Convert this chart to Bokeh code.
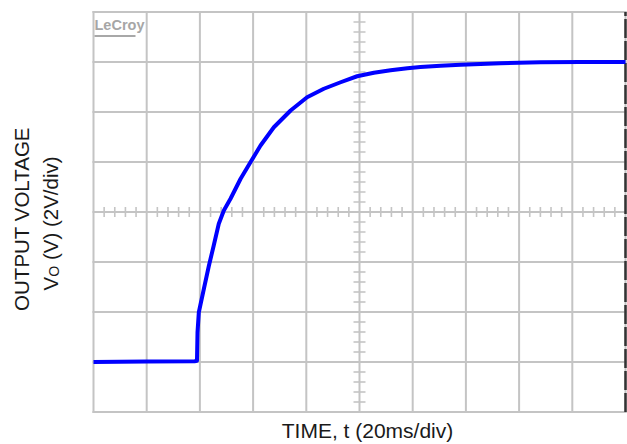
import math
import numpy as np
from bokeh.plotting import figure
from bokeh.models import Label
from bokeh.embed import file_html
from bokeh.resources import INLINE

# ---------------- data ----------------
time_ms = [0.0, 20.0, 38.0, 38.9, 39.1, 39.6, 41.5, 43.4, 45.2, 47.1, 49.0,
           51.5, 55.3, 59.0, 62.8, 67.8, 74.1, 80.3, 86.6, 92.9, 99.1, 105.4,
           111.7, 118.0, 122.9, 130.5, 138.0, 145.5, 153.0, 168.0, 183.1, 200.0]
volts = [0.00, 0.02, 0.03, 0.05, 1.18, 1.99, 2.93, 3.86, 4.66, 5.53, 6.06,
         6.53, 7.33, 7.99, 8.66, 9.39, 10.06, 10.59, 10.93, 11.19, 11.43, 11.57,
         11.67, 11.75, 11.80, 11.85, 11.89, 11.92, 11.95, 11.99, 12.00, 12.00]

x_divs = [0, 20, 40, 60, 80, 100, 120, 140, 160, 180, 200]
y_divs = [-2, 0, 2, 4, 6, 8, 10, 12, 14]
x_label = "TIME, t (20ms/div)"
y_label_1 = "OUTPUT VOLTAGE"
y_label_2 = ["V", "O", "(V) (2V/div)"]
logo_text = "LeCroy"

T0, T1 = 0.0, 200.0
V0, V1 = -2.0, 14.0
T_MID, V_MID = 100.0, 6.0

# ---------------- geometry (canvas pixels) ----------------
W, H = 627, 444
PX_T0, PX_T1 = 93.0, 625.0
PY_V1, PY_V0 = 11.5, 411.5
sx = (PX_T1 - PX_T0) / (T1 - T0)
sy = (PY_V0 - PY_V1) / (V1 - V0)


def tx(px):
    return T0 + (px - PX_T0) / sx


def vy(py):
    return V1 - (py - PY_V1) / sy


p = figure(width=W, height=H, output_backend="svg", toolbar_location=None,
           title=None, x_axis_location=None, y_axis_location=None,
           x_range=(tx(0), tx(W)), y_range=(vy(H), vy(0)))
p.min_border = 0
p.min_border_left = 0
p.min_border_right = 0
p.min_border_top = 0
p.min_border_bottom = 0
p.outline_line_color = None
p.grid.visible = False
p.background_fill_color = "white"
p.border_fill_color = "white"

GRID = "#c4c4c4"
# graticule
p.segment(x0=x_divs, x1=x_divs, y0=V0, y1=V1, line_color=GRID, line_width=2,
          line_cap="square")
p.segment(x0=T0, x1=T1, y0=y_divs, y1=y_divs, line_color=GRID, line_width=2,
          line_cap="square")

# centre-axis minor ticks (5 per division)
minor_t = [t for t in np.arange(T0, T1 + 0.01, 4.0) if abs(t / 20 - round(t / 20)) > 1e-6]
minor_v = [v for v in np.arange(V0, V1 + 0.01, 0.4) if abs(v / 2 - round(v / 2)) > 1e-6]
p.segment(x0=minor_t, x1=minor_t, y0=V_MID - 5 / sy, y1=V_MID + 5 / sy,
          line_color=GRID, line_width=1.6)
p.segment(x0=T_MID - 6 / sx, x1=T_MID + 6 / sx, y0=minor_v, y1=minor_v,
          line_color=GRID, line_width=1.6)

# dark dashed right edge of the screen
p.line(x=[T1, T1], y=[V0, V1], line_color="#333333", line_width=2.5, line_dash="19 3")

# trace
p.line(x=time_ms, y=volts, line_color="#0000ff", line_width=4, line_join="round")

# LeCroy logo
p.add_layout(Label(x=tx(94), y=vy(24.5), text=logo_text, text_align="left",
                   text_baseline="alphabetic", text_font="Liberation Sans",
                   text_font_style="bold", text_font_size="14.5px", text_color="#a6a6a6"))
p.line(x=[tx(94), tx(135)], y=[vy(35.5), vy(35.5)], line_color="#a8a8a8", line_width=2)

# axis titles
FONT = "Liberation Sans"
TXT = "#1a1a1a"
p.add_layout(Label(x=tx(20.5), y=vy(218.5), text=y_label_1, angle=math.pi / 2,
                   text_align="center", text_baseline="alphabetic", text_font=FONT,
                   text_font_size="20.5px", text_color=TXT))
base_x = 49.5
start_y = 290.0
p.add_layout(Label(x=tx(base_x), y=vy(start_y), text=y_label_2[0], angle=math.pi / 2,
                   text_align="left", text_baseline="alphabetic", text_font=FONT,
                   text_font_size="20.5px", text_color=TXT))
p.add_layout(Label(x=tx(base_x + 4), y=vy(start_y - 13.7), text=y_label_2[1], angle=math.pi / 2,
                   text_align="left", text_baseline="alphabetic", text_font=FONT,
                   text_font_size="14px", text_color=TXT))
p.add_layout(Label(x=tx(base_x), y=vy(start_y - 13.7 - 11.0 - 5.7), text=y_label_2[2],
                   angle=math.pi / 2, text_align="left", text_baseline="alphabetic",
                   text_font=FONT, text_font_size="20.5px", text_color=TXT))
p.add_layout(Label(x=tx(367), y=vy(430), text=x_label, text_align="center",
                   text_baseline="alphabetic", text_font=FONT,
                   text_font_size="21px", text_color=TXT))

open("out.html", "w").write(file_html(p, INLINE))
